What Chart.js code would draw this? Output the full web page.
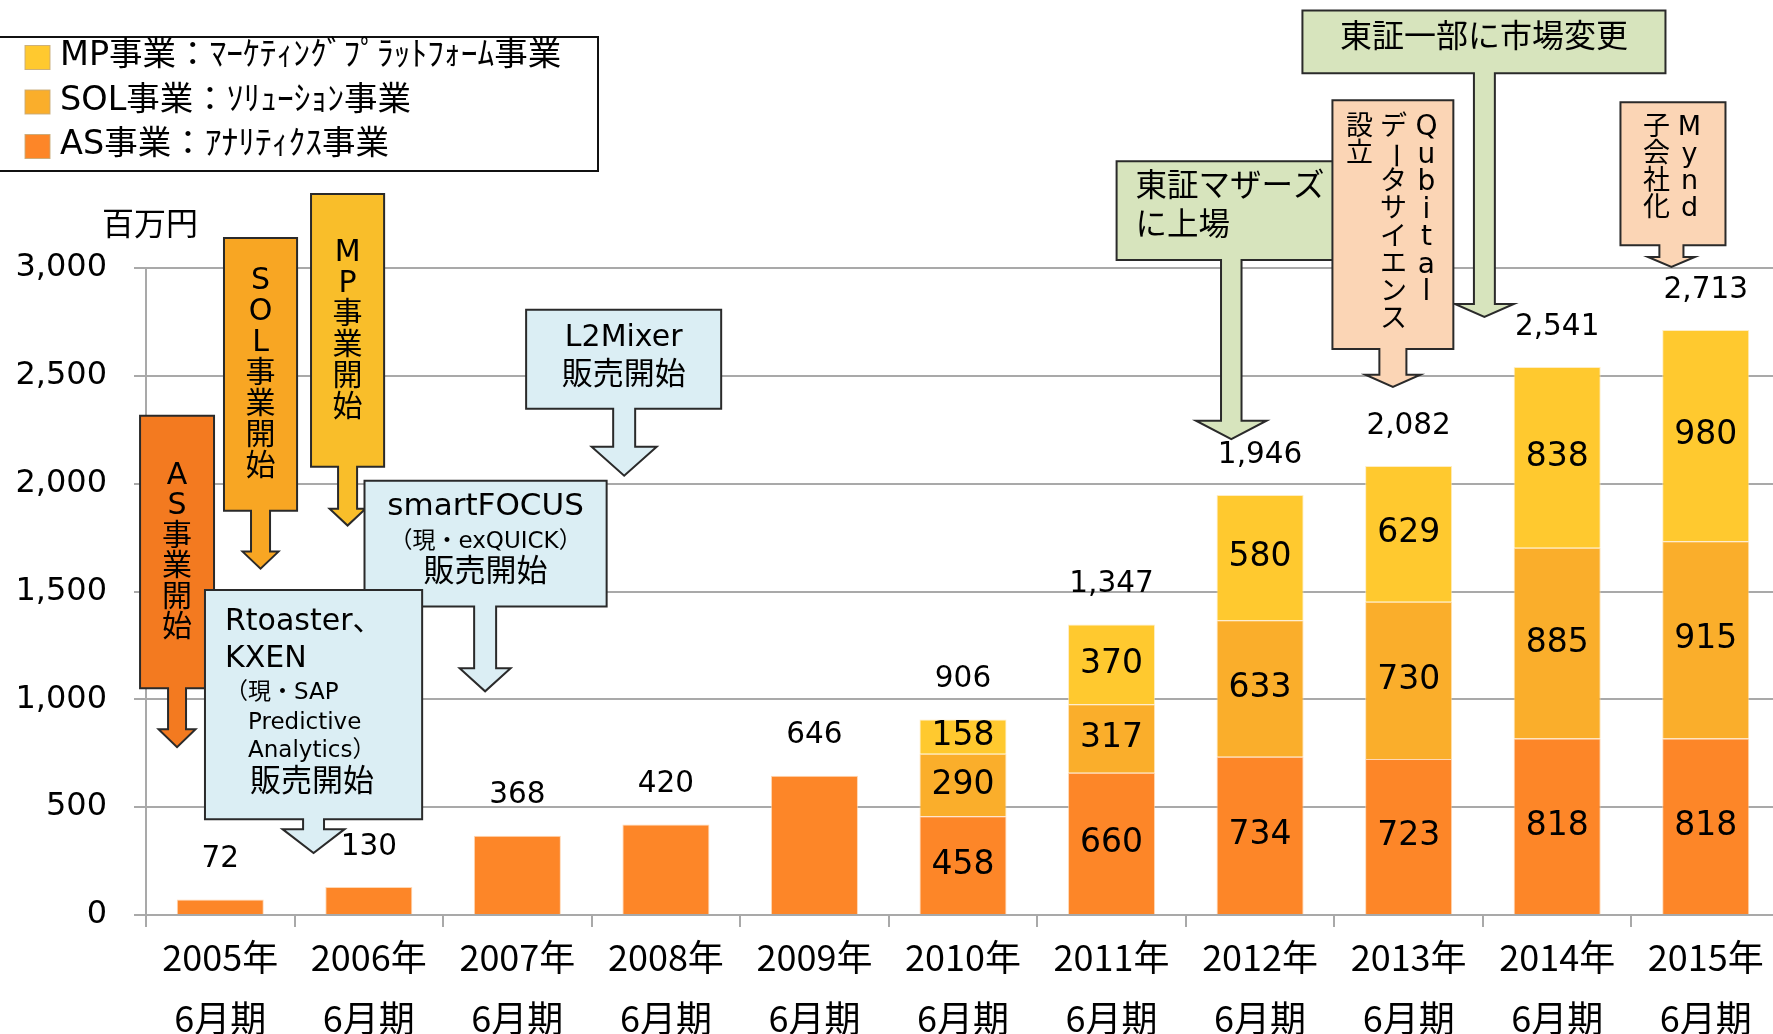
<!DOCTYPE html>
<html><head><meta charset="utf-8">
<script src="https://cdn.jsdelivr.net/npm/chart.js@4.4.1/dist/chart.umd.min.js"></script>
<style>html,body{margin:0;padding:0;overflow:hidden;background:#fff}#wrap{width:1781px;height:1034px;position:relative}</style>
</head><body><div id="wrap"><canvas id="c"></canvas></div>
<script>
// ---- data ----
const categories = [["2005年","6月期"],["2006年","6月期"],["2007年","6月期"],["2008年","6月期"],["2009年","6月期"],["2010年","6月期"],["2011年","6月期"],["2012年","6月期"],["2013年","6月期"],["2014年","6月期"],["2015年","6月期"]];
const asValues  = [72,130,368,420,646,458,660,734,723,818,818];
const solValues = [null,null,null,null,null,290,317,633,730,885,915];
const mpValues  = [null,null,null,null,null,158,370,580,629,838,980];
const totals    = [72,130,368,420,646,906,1347,1946,2082,2541,2713];
const yTicks    = [0,500,1000,1500,2000,2500,3000];
const seriesNames = ["AS事業：ｱﾅﾘﾃｨｸｽ事業","SOL事業：ｿﾘｭｰｼｮﾝ事業","MP事業：ﾏｰｹﾃｨﾝｸﾞﾌﾟﾗｯﾄﾌｫｰﾑ事業"];
const unitLabel = "百万円";

// ---- styles ----
const colAS = '#FD8628', colSOL = '#FAAE2B', colMP = '#FFC92F';
const gridCol = '#A9A9A9';
const F = s => `${s}px 'DejaVu Sans', 'Noto Sans CJK JP', sans-serif`;
const FJ = s => `${s}px 'Noto Sans CJK JP', sans-serif`;

// callouts: box [x0,x1 (category units), yTop,yBottom (value units)], arrow [cx, shaftW, headW, headStartY, tipY]
const callouts = [
 {fill:'#F37A20', box:[-0.540,-0.042,2315,1051], arrow:[-0.291,0.121,0.249,861,778], text:[{col:'AS事業開始', x:'c', y:'c', pitch:30.5, size:30}]},
 {fill:'#F8A623', box:[0.025,0.517,3139,1875], arrow:[0.271,0.128,0.242,1685,1606], text:[{col:'SOL事業開始', x:'c', y:'c', pitch:31, size:30}]},
 {fill:'#F9BE2A', box:[0.611,1.103,3343,2079], arrow:[0.857,0.128,0.242,1884,1806], text:[{col:'MP事業開始', x:'c', y:'c', pitch:31, size:30}]},
 {fill:'#DBEEF4', box:[2.059,3.372,2806,2347], arrow:[2.719,0.148,0.438,2171,2037], text:[{s:'L2Mixer',x:'c',y:28,size:30},{s:'販売開始',x:'c',y:66,size:31}]},
 {fill:'#DBEEF4', box:[0.971,2.601,2014,1431], arrow:[1.783,0.148,0.343,1144,1037], text:[{s:'smartFOCUS',x:'c',y:26.5,size:31},{s:'（現・exQUICK）',x:'c',y:61,size:23},{s:'販売開始',x:'c',y:92.5,size:31}]},
 {fill:'#DBEEF4', box:[-0.103,1.359,1507,444], arrow:[0.628,0.141,0.418,398,287], text:[{s:'Rtoaster、',x:20,y:32,size:30},{s:'KXEN',x:20,y:69.5,size:30},{s:'（現・SAP',x:20,y:103,size:23},{s:'Predictive',x:43,y:133,size:23},{s:'Analytics）',x:43,y:161.5,size:23},{s:'販売開始',x:45,y:193,size:31}]},
 {fill:'#D7E4BD', box:[6.034,7.576,3495,3037], arrow:[6.806,0.138,0.475,2292,2207], text:[{s:'東証マザーズ',x:19,y:27,size:31.5},{s:'に上場',x:19,y:66,size:31.5}]},
 {fill:'#D7E4BD', box:[7.285,9.729,4194,3903], arrow:[8.510,0.141,0.397,2833,2773], text:[{s:'東証一部に市場変更',x:'c',y:28,size:32}]},
 {fill:'#FBD5B5', box:[7.487,8.301,3778,2625], arrow:[7.894,0.182,0.370,2505,2449], text:[{col:'Qubital',x:94,y:14,pitch:27.5,size:28},{col:'データサイエンス',x:61,y:14,pitch:27.5,size:27},{col:'設立',x:27,y:14,pitch:27.5,size:27}]},
 {fill:'#FBD5B5', box:[9.426,10.133,3769,3106], arrow:[9.769,0.162,0.316,3051,3005], text:[{col:'Mynd',x:69,y:12,pitch:27,size:27},{col:'子会社化',x:36,y:12,pitch:27,size:27}]}
];

function drawVertical(ctx, str, x, yStart, pitch, size){
  const chars = Array.from(str);
  ctx.font = F(size);
  ctx.textAlign = 'center'; ctx.textBaseline = 'middle';
  chars.forEach((ch,i)=>{
    const y = yStart + (i+0.5)*pitch;
    if (ch === 'ー') { ctx.save(); ctx.translate(x,y); ctx.rotate(Math.PI/2); ctx.fillText(ch,0,0); ctx.restore(); }
    else ctx.fillText(ch, x, y);
  });
}

const overlay = {
  id:'overlay',
  afterDatasetsDraw(chart){
    const ctx = chart.ctx, xs = chart.scales.x, ys = chart.scales.y;
    ctx.save();
    callouts.forEach(c=>{
      const L = xs.getPixelForValue(c.box[0]), R = xs.getPixelForValue(c.box[1]);
      const T = ys.getPixelForValue(c.box[2]), B = ys.getPixelForValue(c.box[3]);
      const a = c.arrow;
      const cx = xs.getPixelForValue(a[0]);
      const sw = xs.getPixelForValue(a[0]+a[1]/2) - cx;
      const hw = xs.getPixelForValue(a[0]+a[2]/2) - cx;
      const hy = ys.getPixelForValue(a[3]), ty = ys.getPixelForValue(a[4]);
      ctx.beginPath();
      ctx.moveTo(L,T); ctx.lineTo(R,T); ctx.lineTo(R,B);
      ctx.lineTo(cx+sw,B); ctx.lineTo(cx+sw,hy); ctx.lineTo(cx+hw,hy); ctx.lineTo(cx,ty);
      ctx.lineTo(cx-hw,hy); ctx.lineTo(cx-sw,hy); ctx.lineTo(cx-sw,B); ctx.lineTo(L,B); ctx.closePath();
      ctx.fillStyle = c.fill; ctx.fill();
      ctx.lineWidth = 2; ctx.strokeStyle = '#2a2a2a'; ctx.lineJoin = 'miter'; ctx.stroke();
      ctx.fillStyle = '#000';
      c.text.forEach(t=>{
        if (t.col) {
          const x = t.x === 'c' ? (L+R)/2 : L + t.x;
          const n = Array.from(t.col).length;
          const y0 = t.y === 'c' ? (T+B)/2 - n*t.pitch/2 : T + t.y;
          drawVertical(ctx, t.col, x, y0, t.pitch, t.size);
        } else {
          ctx.font = F(t.size); ctx.textBaseline = 'middle';
          if (t.x === 'c') { ctx.textAlign = 'center'; ctx.fillText(t.s, (L+R)/2, T + t.y); }
          else { ctx.textAlign = 'left'; ctx.fillText(t.s, L + t.x, T + t.y); }
        }
      });
    });
    // value labels
    ctx.fillStyle = '#000'; ctx.textAlign = 'center'; ctx.textBaseline = 'middle';
    ctx.font = F(33);
    chart.data.datasets.forEach((ds,di)=>{
      const meta = chart.getDatasetMeta(di);
      meta.data.forEach((bar,j)=>{
        const v = ds.data[j];
        if (v == null || solValues[j] == null) return;
        ctx.fillText(String(v), bar.x, (bar.y + bar.base)/2);
      });
    });
    ctx.font = F(29.5);
    const base = chart.getDatasetMeta(0);
    totals.forEach((t,j)=>{
      const stackTop = ys.getPixelForValue((asValues[j]||0)+(solValues[j]||0)+(mpValues[j]||0));
      ctx.fillText(t.toLocaleString('en-US'), base.data[j].x, stackTop - 40);
    });
    ctx.restore();
  },
  afterDraw(chart){
    const ctx = chart.ctx;
    ctx.save();
    ctx.fillStyle = '#000'; ctx.font = FJ(32); ctx.textAlign = 'center'; ctx.textBaseline = 'middle';
    ctx.fillText(unitLabel, 150, 223);
    // legend
    ctx.fillStyle = '#fff'; ctx.fillRect(-2,37,600,134);
    ctx.lineWidth = 2; ctx.strokeStyle = '#111'; ctx.strokeRect(-2,37,600,134);
    const cols = [colMP, colSOL, colAS];
    const names = [seriesNames[2], seriesNames[1], seriesNames[0]];
    names.forEach((nm,i)=>{
      const cy = 57.5 + i*44.5;
      ctx.fillStyle = cols[i]; ctx.fillRect(25, cy-12, 25, 24);
      ctx.lineWidth = 1; ctx.strokeStyle = 'rgba(200,170,120,0.9)'; ctx.strokeRect(25, cy-12, 25, 24);
      ctx.fillStyle = '#000'; ctx.font = F(33.5); ctx.textAlign = 'left'; ctx.textBaseline = 'middle';
      ctx.fillText(nm, 60, cy - 1);
    });
    ctx.restore();
  }
};

new Chart(document.getElementById('c'), {
  type:'bar',
  data:{
    labels: categories,
    datasets:[
      {label:seriesNames[0], data:asValues, backgroundColor:colAS, borderColor:'rgba(255,200,150,0.7)', borderWidth:1},
      {label:seriesNames[1], data:solValues, backgroundColor:colSOL, borderColor:'rgba(255,215,150,0.7)', borderWidth:1},
      {label:seriesNames[2], data:mpValues, backgroundColor:colMP, borderColor:'rgba(255,230,170,0.7)', borderWidth:1}
    ]
  },
  options:{
    responsive:true, maintainAspectRatio:false, animation:false,
    barPercentage:0.586, categoryPercentage:1,
    layout:{padding:{top:268,right:1,left:0,bottom:0}},
    plugins:{legend:{display:false}, tooltip:{enabled:false}},
    scales:{
      x:{stacked:true, offset:true,
        grid:{display:true, drawOnChartArea:false, drawTicks:true, tickLength:12, offset:true, color:gridCol, lineWidth:2},
        border:{display:true, color:gridCol, width:2},
        ticks:{font:{family:"'Noto Sans CJK JP'", size:36, lineHeight:1.69}, color:'#000', padding:0, maxRotation:0, autoSkip:false},
        afterFit(s){ s.height = 119; }
      },
      y:{stacked:true, min:0, max:3000,
        afterBuildTicks(s){ s.ticks = yTicks.map(v=>({value:v})); },
        ticks:{font:{family:'DejaVu Sans', size:32}, color:'#000', padding:27, callback:v=>Number(v).toLocaleString('en-US')},
        grid:{color:gridCol, lineWidth:2, tickLength:12},
        border:{color:gridCol, width:2},
        afterFit(s){ s.width = 146; }
      }
    }
  },
  plugins:[overlay]
});
</script></body></html>
